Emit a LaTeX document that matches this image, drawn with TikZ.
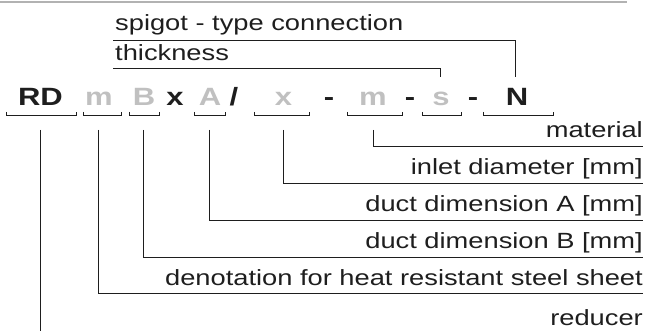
\documentclass[tikz,border=0pt]{standalone}
\usepackage{fontspec}
\setmainfont[FakeStretch=1.24]{Liberation Sans}
\definecolor{ink}{RGB}{30,30,30}
\definecolor{pale}{RGB}{192,192,192}
\definecolor{rulegray}{RGB}{178,178,178}
\begin{document}
\begin{tikzpicture}[x=1pt,y=-1pt,line join=miter]
  \tikzset{coded/.style={anchor=base,inner sep=0pt,font=\fontsize{25}{30}\selectfont\bfseries,text=ink},
    codevar/.style={coded,text=pale},
    desc/.style={inner sep=0pt,font=\fontsize{22}{26}\selectfont,text=ink},
    wire/.style={draw=ink,line width=.9pt}}
  \useasboundingbox (0,0) rectangle (648,331);
  \draw[rulegray,line width=2pt] (0,2.5)--(627,2.5);
  % type key
  \node[coded] (rd) at (40.5,106) {RD}; \node[codevar] (m1) at (99,106) {m}; \node[codevar] (b1) at (144,106) {B};
  \node[coded] (x1) at (175,106) {x}; \node[codevar] (a1) at (210,106) {A}; \node[coded] (sl) at (234,106) {/};
  \node[codevar] (x2) at (283.5,106) {x}; \node[coded] (h1) at (329,106) {-}; \node[codevar] (m2) at (373,106) {m};
  \node[coded] (h2) at (410,106) {-}; \node[codevar] (s1) at (441,106) {s}; \node[coded] (h3) at (473,106) {-};
  \node[coded] (n1) at (517,106) {N};
  \foreach \a/\b in {6/76,83/121,129/159,194/225,254/309,347/402,422/461,483/553}
    \draw[wire] (\a,112)|-(\b,115)--(\b,112);
  % descriptions
  \node[desc,anchor=base west] (spig) at (115,31) {spigot - type connection};
  \node[desc,anchor=base west] (thick) at (115,61) {thickness};
  \node[desc,anchor=base east] (mat) at (643,138) {material};
  \node[desc,anchor=base east] (inl) at (643,175) {inlet diameter [mm]};
  \node[desc,anchor=base east] (dima) at (643,212) {duct dimension A [mm]};
  \node[desc,anchor=base east] (dimb) at (643,249) {duct dimension B [mm]};
  \node[desc,anchor=base east] (heat) at (643,285) {denotation for heat resistant steel sheet};
  \node[desc,anchor=base east] (red) at (643,325) {reducer};
  \draw[wire] ([yshift=-24pt]rd.base)--(rd.base |- 0,331);
  \draw[wire] ([xshift=-1pt,yshift=-24pt]m1.base)|-([yshift=-8pt]heat.base east);
  \draw[wire] ([xshift=-1pt,yshift=-24pt]b1.base)|-([yshift=-8pt]dimb.base east);
  \draw[wire] ([xshift=-1pt,yshift=-24pt]a1.base)|-([yshift=-8pt]dima.base east);
  \draw[wire] ([yshift=-24pt]x2.base)|-([yshift=-8pt]inl.base east);
  \draw[wire] ([yshift=-24pt]m2.base)|-([yshift=-8pt]mat.base east);
  \draw[wire] ([xshift=-1pt,yshift=29pt]s1.base)|-([xshift=-2pt,yshift=-7pt]thick.base west);
  \draw[wire] ([xshift=-2pt,yshift=29pt]n1.base)|-([xshift=-2pt,yshift=-9pt]spig.base west);
\end{tikzpicture}
\end{document}
